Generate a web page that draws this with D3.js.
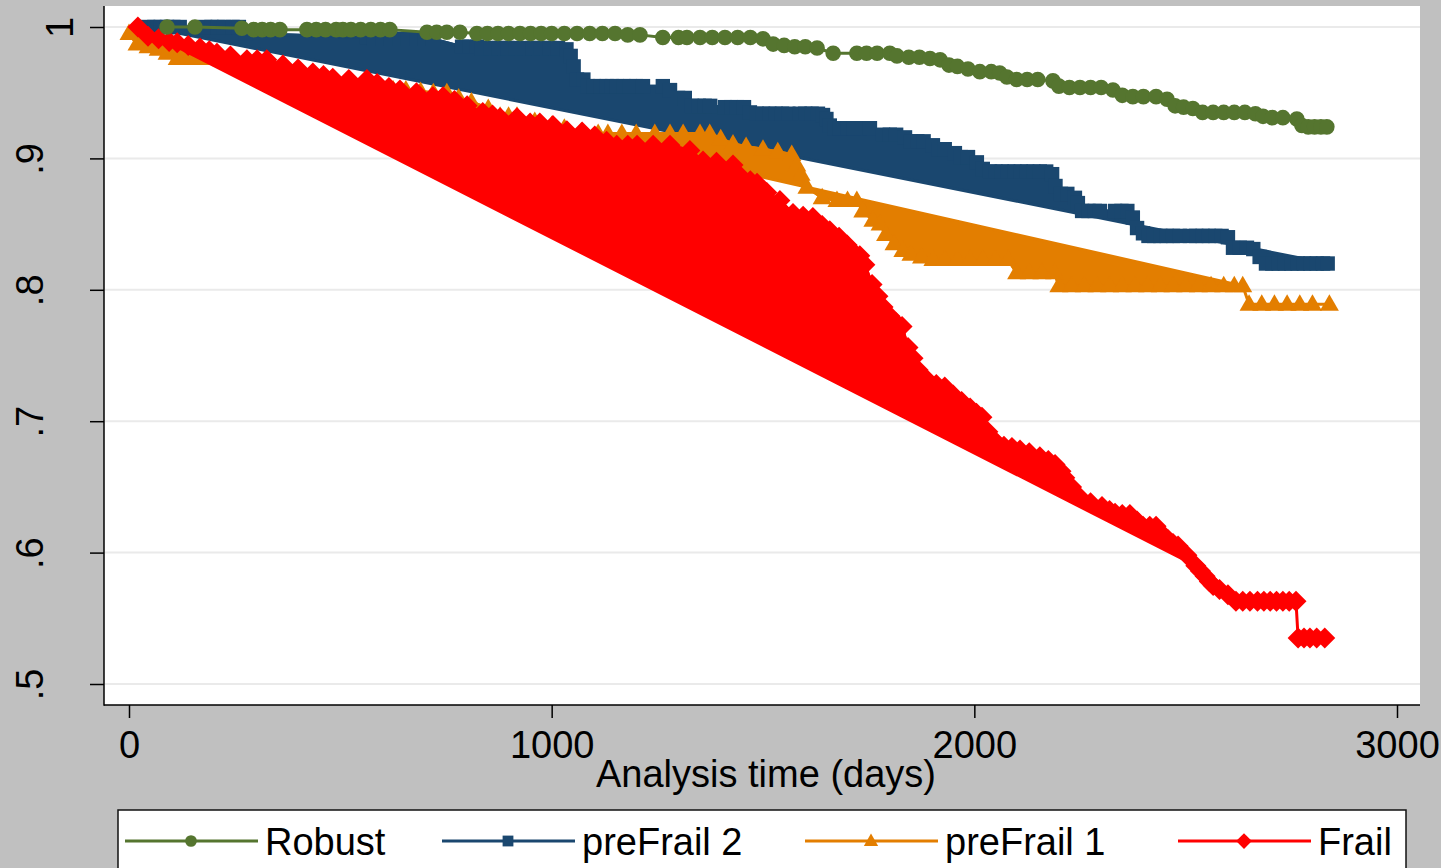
<!DOCTYPE html>
<html><head><meta charset="utf-8">
<script src="https://cdn.jsdelivr.net/npm/d3@7"></script>
<style>
body{margin:0;background:#c0c0c0;overflow:hidden}
svg{display:block}
text{font-family:"Liberation Sans",Arial,Helvetica,sans-serif;fill:#000}
</style>
</head><body>
<svg id="chart" width="1441" height="868"></svg>
<script>
// ---------------- DATA ----------------
const seriesNames = ["Robust", "preFrail 2", "preFrail 1", "Frail"];
const xTicks = [0, 1000, 2000, 3000];
const yTicks = [0.5, 0.6, 0.7, 0.8, 0.9, 1];
const yTickLabels = [".5", ".6", ".7", ".8", ".9", "1"];
const xTitle = "Analysis time (days)";

// [analysis time (days), survival probability]
const robust = [[90,1],[156,1],[267,.999],[295,.998],[315,.998],[335,.998],[357,.998],[421,.998],[443,.998],[465,.998],[490,.998],[506,.998],[525,.998],[548,.998],[572,.998],[595,.998],[617,.998],[705,.996],[728,.996],[752,.996],[783,.996],[823,.995],[848,.995],[873,.995],[898,.995],[925,.995],[950,.995],[975,.995],[1000,.995],[1030,.995],[1060,.995],[1090,.995],[1120,.995],[1150,.995],[1180,.994],[1209,.994],[1263,.992],[1300,.992],[1320,.992],[1351,.992],[1380,.992],[1410,.992],[1440,.992],[1470,.992],[1500,.991],[1524,.987],[1550,.986],[1575,.985],[1600,.985],[1628,.984],[1666,.980],[1722,.980],[1745,.980],[1770,.980],[1800,.980],[1817,.978],[1845,.977],[1870,.977],[1895,.976],[1919,.975],[1940,.971],[1960,.970],[1985,.968],[2013,.966],[2040,.966],[2060,.965],[2077,.962],[2100,.960],[2125,.960],[2150,.960],[2186,.959],[2200,.955],[2225,.954],[2250,.954],[2275,.954],[2300,.954],[2328,.952],[2350,.948],[2375,.947],[2400,.947],[2430,.947],[2456,.945],[2475,.940],[2495,.939],[2517,.938],[2540,.935],[2565,.935],[2590,.935],[2615,.935],[2640,.935],[2665,.934],[2683,.932],[2705,.931],[2730,.931],[2763,.930],[2775,.925],[2790,.924],[2805,.924],[2820,.924],[2834,.924]];

const preFrail2 = [[45,1],[60,1],[75,1],[90,1],[105,1],[120,1],[180,1],[195,1],[210,1],[225,1],[245,1],[260,1],[275,.995],[563,.992],[580,.991],[600,.991],[620,.991],[640,.991],[660,.991],[680,.991],[700,.991],[719,.991],[788,.985],[805,.985],[823,.985],[835,.984],[855,.984],[875,.984],[895,.984],[915,.984],[935,.984],[955,.984],[975,.984],[995,.984],[1015,.984],[1035,.983],[1045,.978],[1052,.970],[1060,.960],[1075,.960],[1086,.955],[1100,.955],[1115,.955],[1130,.955],[1143,.955],[1154,.955],[1170,.955],[1185,.955],[1200,.955],[1216,.955],[1263,.955],[1280,.952],[1299,.946],[1315,.946],[1332,.940],[1348,.940],[1362,.940],[1375,.940],[1410,.939],[1425,.939],[1438,.939],[1455,.939],[1469,.935],[1485,.934],[1500,.934],[1515,.934],[1530,.934],[1545,.934],[1560,.934],[1587,.934],[1600,.934],[1615,.934],[1630,.934],[1642,.933],[1650,.930],[1658,.925],[1670,.923],[1682,.923],[1700,.923],[1715,.923],[1730,.923],[1753,.923],[1784,.918],[1800,.918],[1815,.918],[1836,.916],[1850,.913],[1865,.913],[1880,.913],[1902,.910],[1915,.907],[1930,.907],[1954,.904],[1968,.901],[1985,.901],[2006,.897],[2020,.892],[2037,.890],[2050,.890],[2065,.890],[2080,.890],[2095,.890],[2110,.890],[2125,.890],[2140,.890],[2155,.890],[2170,.890],[2184,.888],[2192,.879],[2205,.873],[2220,.873],[2238,.870],[2245,.866],[2255,.860],[2270,.860],[2285,.860],[2297,.860],[2333,.860],[2348,.860],[2362,.860],[2375,.855],[2385,.847],[2399,.843],[2412,.841],[2425,.841],[2440,.841],[2455,.841],[2470,.841],[2486,.841],[2510,.841],[2525,.841],[2540,.841],[2555,.841],[2570,.841],[2585,.841],[2600,.840],[2612,.832],[2628,.832],[2645,.832],[2660,.831],[2675,.825],[2690,.820],[2705,.820],[2720,.820],[2735,.820],[2750,.820],[2765,.820],[2780,.820],[2795,.820],[2810,.820],[2825,.820],[2836,.820]];

const preFrail1 = [[0,.995],[19,.987],[45,.985],[69,.983],[90,.980],[114,.976],[140,.976],[161,.976],[190,.976],[220,.975],[250,.972],[280,.970],[320,.967],[350,.965],[390,.962],[430,.960],[470,.958],[520,.955],[570,.954],[625,.952],[655,.952],[690,.951],[720,.950],[752,.950],[780,.946],[810,.943],[850,.938],[878,.932],[898,.932],[918,.932],[960,.928],[1000,.925],[1030,.923],[1070,.920],[1110,.919],[1133,.919],[1166,.919],[1200,.919],[1244,.919],[1280,.919],[1311,.919],[1351,.919],[1374,.919],[1400,.915],[1429,.911],[1460,.909],[1500,.907],[1535,.905],[1568,.903],[1580,.895],[1590,.888],[1604,.878],[1640,.870],[1675,.868],[1700,.868],[1722,.868],[1736,.860],[1760,.853],[1777,.850],[1790,.842],[1810,.835],[1831,.830],[1850,.827],[1875,.825],[1902,.823],[1930,.823],[1960,.823],[1990,.823],[2020,.823],[2050,.823],[2080,.823],[2100,.813],[2130,.813],[2160,.813],[2190,.813],[2200,.803],[2230,.803],[2260,.803],[2290,.803],[2320,.803],[2350,.803],[2380,.803],[2410,.803],[2440,.803],[2470,.803],[2500,.803],[2530,.803],[2560,.803],[2590,.803],[2615,.803],[2635,.803],[2650,.789],[2680,.789],[2710,.789],[2740,.789],[2770,.789],[2800,.789],[2840,.789]];

const frail = [[21,1],[45,.993],[70,.991],[95,.989],[114,.988],[140,.986],[168,.984],[190,.982],[208,.980],[240,.978],[279,.975],[303,.975],[326,.975],[364,.971],[400,.968],[435,.965],[460,.963],[482,.961],[520,.960],[563,.960],[587,.957],[615,.954],[641,.952],[680,.950],[719,.947],[743,.947],[770,.944],[800,.940],[837,.935],[860,.933],[878,.931],[918,.931],[949,.927],[972,.927],[1003,.925],[1036,.921],[1072,.920],[1102,.917],[1130,.913],[1154,.910],[1180,.910],[1202,.910],[1240,.910],[1280,.910],[1327,.906],[1358,.898],[1390,.897],[1429,.895],[1445,.887],[1470,.883],[1486,.881],[1509,.874],[1540,.868],[1571,.858],[1595,.856],[1618,.855],[1640,.849],[1658,.845],[1680,.840],[1699,.834],[1710,.830],[1729,.826],[1741,.819],[1758,.804],[1772,.795],[1784,.787],[1800,.780],[1815,.775],[1829,.772],[1843,.756],[1855,.748],[1867,.739],[1880,.733],[1890,.731],[1910,.728],[1930,.726],[1950,.720],[1970,.715],[1990,.710],[2005,.706],[2018,.703],[2032,.692],[2045,.686],[2056,.682],[2070,.681],[2089,.680],[2108,.678],[2130,.676],[2155,.673],[2175,.670],[2191,.667],[2205,.662],[2214,.657],[2230,.650],[2250,.642],[2275,.638],[2302,.635],[2320,.632],[2333,.630],[2350,.629],[2368,.629],[2385,.624],[2399,.620],[2415,.620],[2430,.620],[2445,.614],[2458,.610],[2470,.607],[2482,.605],[2503,.598],[2524,.590],[2535,.586],[2546,.582],[2556,.578],[2565,.575],[2580,.572],[2600,.568],[2619,.563],[2635,.563],[2652,.563],[2670,.563],[2685,.563],[2700,.563],[2715,.563],[2730,.563],[2745,.563],[2761,.563],[2766,.535],[2780,.535],[2794,.535],[2810,.535],[2829,.535]];

// last time (days) included in the fan of connecting lines drawn back to the first point (null = none)
const fanEndDays = [null, 2836, 2635, 2524];

// ---------------- STYLE ----------------
const colors = ["#55752f", "#1a476f", "#e37e00", "#ff0000"];
const markers = ["circle", "square", "triangle", "diamond"];
const seriesData = [robust, preFrail2, preFrail1, frail];
const drawOrder = [1, 2, 3, 0];

const W = 1441, H = 868;
const plotL = 104, plotR = 1420, plotT = 6, plotB = 705;
const FS = 38;

const svg = d3.select("#chart");
svg.append("rect").attr("width", W).attr("height", H).attr("fill", "#c0c0c0");
svg.append("rect").attr("x", plotL).attr("y", plotT)
  .attr("width", plotR - plotL).attr("height", plotB - plotT).attr("fill", "#ffffff");

const x = d3.scaleLinear().domain([0, 3000]).range([129, 1397]);
const y = d3.scaleLinear().domain([0.5, 1]).range([684, 27]);

// gridlines
svg.append("g").selectAll("line").data(yTicks).join("line")
  .attr("x1", plotL + 1).attr("x2", plotR)
  .attr("y1", d => y(d)).attr("y2", d => y(d))
  .attr("stroke", "#eaeaea").attr("stroke-width", 2);

function markerPath(type) {
  switch (type) {
    case "circle": return d3.symbol(d3.symbolCircle, Math.PI * 7.8 * 7.8)();
    case "square": return "M-7.2,-7.2h14.4v14.4h-14.4Z";
    case "triangle": return "M0,-10L9.5,6.5L-9.5,6.5Z";
    case "diamond": return "M0,-10.5L10.5,0L0,10.5L-10.5,0Z";
  }
}

const lineGen = d3.line().x(d => x(d[0])).y(d => y(d[1]));
const plotG = svg.append("g");

drawOrder.forEach(i => {
  const data = seriesData[i];
  const g = plotG.append("g");
  const fe = fanEndDays[i];
  if (fe !== null) {
    const fan = data.filter(d => d[0] <= fe);
    g.append("path").attr("d", lineGen(fan) + "Z")
      .attr("fill", colors[i]).attr("fill-rule", "nonzero")
      .attr("stroke", colors[i]).attr("stroke-width", 3).attr("stroke-linejoin", "round");
  }
  g.append("path").attr("d", lineGen(data)).attr("fill", "none")
    .attr("stroke", colors[i]).attr("stroke-width", 3).attr("stroke-linejoin", "round");
  g.selectAll("path.mk").data(data).join("path").attr("class", "mk")
    .attr("d", markerPath(markers[i]))
    .attr("transform", d => `translate(${x(d[0])},${y(d[1])})`)
    .attr("fill", colors[i]);
});

// axis lines
svg.append("line").attr("x1", plotL).attr("x2", plotL).attr("y1", plotT).attr("y2", plotB + 0.75)
  .attr("stroke", "#000").attr("stroke-width", 1.5);
svg.append("line").attr("x1", plotL).attr("x2", plotR).attr("y1", plotB).attr("y2", plotB)
  .attr("stroke", "#000").attr("stroke-width", 1.5);

// y axis
const yAxis = d3.axisLeft(y).tickValues(yTicks).tickSize(14).tickSizeOuter(0)
  .tickFormat((d, i) => yTickLabels[i]);
const yG = svg.append("g").attr("transform", `translate(${plotL},0)`).call(yAxis);
yG.select(".domain").remove();
yG.selectAll(".tick line").attr("stroke", "#000").attr("stroke-width", 1.5);
yG.selectAll(".tick text")
  .attr("x", null).attr("dy", null).attr("y", null)
  .attr("text-anchor", "middle")
  .attr("transform", d => `translate(${(d === 1 ? 73 : 43) - plotL},0) rotate(-90)`)
  .style("font-size", FS + "px").attr("font-family", null).attr("fill", "#000");

// x axis
const xAxis = d3.axisBottom(x).tickValues(xTicks).tickSize(13).tickSizeOuter(0).tickPadding(13)
  .tickFormat(d3.format("d"));
const xG = svg.append("g").attr("transform", `translate(0,${plotB})`).call(xAxis);
xG.select(".domain").remove();
xG.selectAll(".tick line").attr("stroke", "#000").attr("stroke-width", 1.5);
xG.selectAll(".tick text").attr("dy", null).attr("y", 53)
  .style("font-size", FS + "px").attr("font-family", null).attr("fill", "#000");

// x title
svg.append("text").attr("x", 766).attr("y", 787).attr("text-anchor", "middle")
  .style("font-size", FS + "px").text(xTitle);

// legend
const legG = svg.append("g");
legG.append("rect").attr("x", 118).attr("y", 810).attr("width", 1288).attr("height", 80)
  .attr("fill", "#fff").attr("stroke", "#111").attr("stroke-width", 1.5);
const legX = [125, 442, 805, 1178];
const legY = 841;
seriesNames.forEach((name, i) => {
  const lx = legX[i];
  legG.append("line").attr("x1", lx).attr("x2", lx + 133).attr("y1", legY).attr("y2", legY)
    .attr("stroke", colors[i]).attr("stroke-width", 3);
  legG.append("path").attr("d", markerPath(markers[i]))
    .attr("transform", `translate(${lx + 66},${legY}) scale(0.75)`).attr("fill", colors[i]);
  legG.append("text").attr("x", lx + 140).attr("y", legY + 13.5)
    .style("font-size", FS + "px").text(name);
});
</script>
</body></html>
